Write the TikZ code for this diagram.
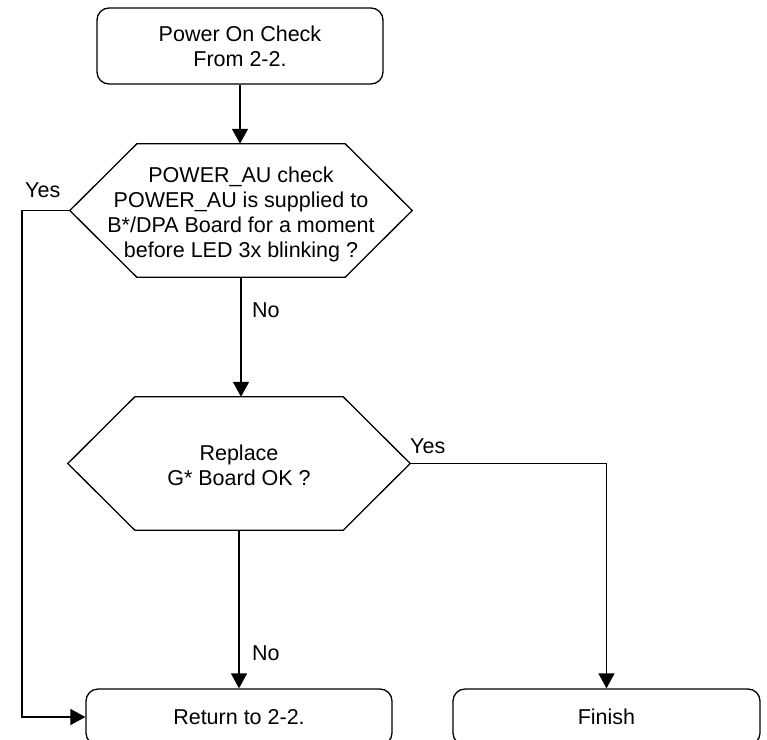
\documentclass[tikz,border=0pt]{standalone}
\usepackage{fontspec}
\setmainfont{Liberation Sans}
\usetikzlibrary{arrows.meta}
\begin{document}
\begin{tikzpicture}[x=1pt,y=-1pt,
  every node/.style={font=\fontsize{21.5}{25}\selectfont},
  rbox/.style={draw,rounded corners=12pt,line width=1.3pt,align=center,inner sep=0pt},
  hexbox/.style={align=center,inner sep=0pt,minimum width=342pt,minimum height=133pt},
  txt/.style={align=center,inner sep=0pt},
  hexline/.style={line width=1.3pt},
  arr/.style={line width=1.3pt,-{Triangle[length=15pt,width=16pt]}},
  lbl/.style={anchor=west,inner sep=0pt}]
\useasboundingbox (0,0) rectangle (767,739);
\clip (0,0) rectangle (767,739);
\node[rbox,minimum width=286pt,minimum height=76pt] (top) at (240,46) {Power On Check\\From 2-2.};
\node[hexbox] (h1) at (241,210.5) {};
\node[txt] (h1t) at (241,214.5) {POWER\_AU check\\POWER\_AU is supplied to\\B*/DPA Board for a moment\\before LED 3x blinking ?};
\draw[hexline] (h1.west) -- ([xshift=67pt]h1.north west) -- ([xshift=-67pt]h1.north east) -- (h1.east) -- ([xshift=-67pt]h1.south east) -- ([xshift=67pt]h1.south west) -- cycle;
\node[hexbox] (h2) at (239,463.5) {};
\node[txt] (h2t) at (239,465.5) {Replace\\G* Board OK ?};
\draw[hexline] (h2.west) -- ([xshift=67pt]h2.north west) -- ([xshift=-67pt]h2.north east) -- (h2.east) -- ([xshift=-67pt]h2.south east) -- ([xshift=67pt]h2.south west) -- cycle;
\node[rbox,minimum width=306pt,minimum height=56pt] (ret) at (239,717) {Return to 2-2.};
\node[rbox,minimum width=307pt,minimum height=56pt] (fin) at (606.5,717) {Finish};
\coordinate (c1) at (22,717);
\draw[arr] (top.south) -- (top.south |- h1.north);
\draw[arr] (h1.west) -| (c1) -- (ret.west);
\draw[arr] (h1.south) -- (h1.south |- h2.north);
\draw[arr] (h2.east) -| (fin.north);
\draw[arr] (h2.south) -- (h2.south |- ret.north);
\node[lbl] (y1) at (25,190) {Yes};
\node[lbl] (n1) at (252,310) {No};
\node[lbl] (y2) at (410,446) {Yes};
\node[lbl] (n2) at (252,653) {No};
\end{tikzpicture}
\end{document}
